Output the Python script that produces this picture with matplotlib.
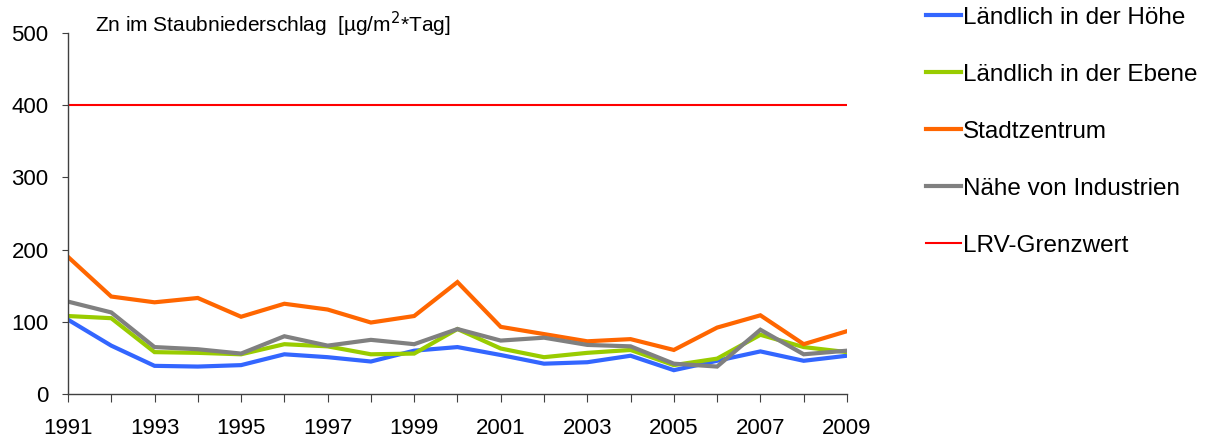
import matplotlib
matplotlib.use("Agg")
import matplotlib.pyplot as plt

plt.rcParams['font.family'] = ['Liberation Sans', 'DejaVu Sans']

jahre = list(range(1991, 2010))

hoehe = [103, 67, 39, 38, 40, 55, 51, 45, 60, 65, 54, 42, 44, 53, 33, 46, 59, 46, 53]
ebene = [108, 105, 58, 57, 55, 69, 66, 55, 56, 90, 63, 51, 57, 61, 40, 49, 82, 65, 58]
stadt = [190, 135, 127, 133, 107, 125, 117, 99, 108, 155, 93, 83, 73, 76, 61, 92, 109, 69, 87]
industrie = [128, 113, 65, 62, 56, 80, 67, 75, 69, 90, 74, 78, 68, 66, 42, 38, 89, 55, 60]
grenzwert = 400

serien = [
    ("Ländlich in der Höhe", hoehe, "#3366FF"),
    ("Ländlich in der Ebene", ebene, "#99CC00"),
    ("Stadtzentrum", stadt, "#FF6600"),
    ("Nähe von Industrien", industrie, "#808080"),
]

fig = plt.figure(figsize=(12.07, 4.44), dpi=100)
ax = fig.add_axes([0.0563, 0.1126, 0.6454, 0.8131])

for name, werte, farbe in serien:
    ax.plot(jahre, werte, color=farbe, lw=3, label=name, solid_joinstyle='miter')
ax.plot([jahre[0], jahre[-1]], [grenzwert, grenzwert], color="#FF0000", lw=1.5,
        label="LRV-Grenzwert")

ax.set_xlim(1991, 2009)
ax.set_ylim(0, 500)
ax.set_yticks(range(0, 501, 100))
ax.set_xticks(jahre)
ax.set_xticklabels([str(j) if j % 2 == 1 else "" for j in jahre])
ax.spines['top'].set_visible(False)
ax.spines['right'].set_visible(False)
for s in ('left', 'bottom'):
    ax.spines[s].set_color('#404040')
    ax.spines[s].set_linewidth(1)
ax.tick_params(axis='y', direction='out', length=4, labelsize=16, pad=10, color='#404040')
ax.tick_params(axis='x', direction='out', length=6, labelsize=16, pad=11, color='#404040')

ax.text(0.035, 1.024, "Zn im Staubniederschlag  [µg/m$^2$*Tag]", transform=ax.transAxes,
        fontsize=15, va='center', ha='left')

leg = ax.legend(loc='upper left', bbox_to_anchor=(916 / 1207, 1 + 3 / 444),
                bbox_transform=fig.transFigure,
                frameon=False, fontsize=17.5, handlelength=1.45, handletextpad=0.08,
                labelspacing=1.44, borderaxespad=0)

fig.savefig("out.png", dpi=100)
